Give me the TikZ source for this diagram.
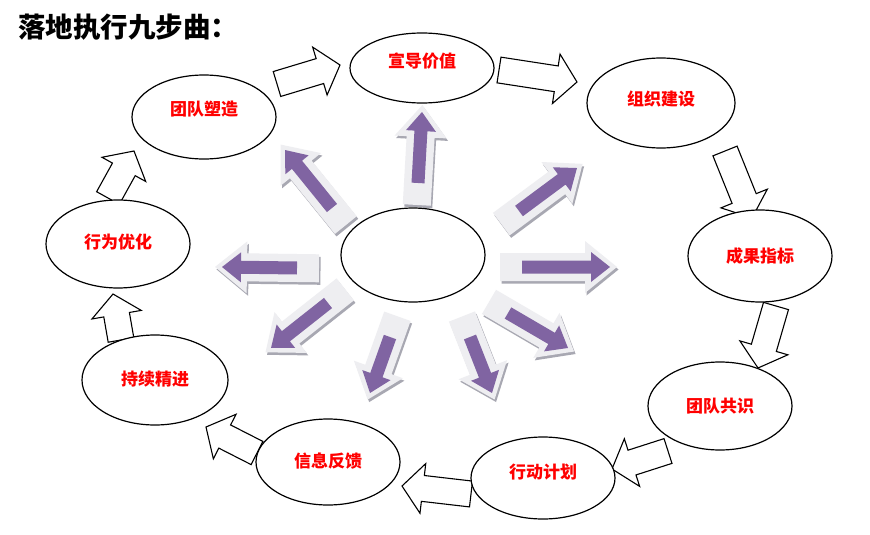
\documentclass[tikz,border=0pt]{standalone}
\usepackage{fontspec}
\setmainfont{Noto Sans CJK SC}
\usetikzlibrary{shapes.geometric}
\definecolor{purp}{RGB}{128,100,162}
\definecolor{lgray}{RGB}{238,238,241}
\definecolor{sgray}{RGB}{168,168,178}
\definecolor{lred}{RGB}{255,0,0}

\tikzset{
  stepell/.style={ellipse, draw=black, line width=1.2pt, fill=white, inner sep=0pt,
    text=lred, font=\fontsize{17}{19}\selectfont\bfseries},
  harrow/.style={draw=black, line width=1.1pt, fill=white, line join=miter},
}

% hollow block arrow: tail (#1,#2) -> tip (#3,#4)
\newcommand\hollowarr[4]{%
  \pgfmathsetmacro\adx{#3-#1}\pgfmathsetmacro\ady{#4-#2}%
  \pgfmathsetmacro\aL{veclen(\adx,\ady)}%
  \pgfmathsetmacro\aA{atan2(-\ady,\adx)}%
  \begin{scope}[shift={(#1,#2)},rotate=\aA]
    \draw[harrow] (0,-13) -- (\aL-21,-13) -- (\aL-21,-25) -- (\aL,0) -- (\aL-21,25) -- (\aL-21,13) -- (0,13) -- cycle;
  \end{scope}}

% purple 3D arrow: tail (#1,#2) -> tip (#3,#4) of the purple part
\newcommand\purparr[4]{%
  \pgfmathsetmacro\adx{#3-#1}\pgfmathsetmacro\ady{#4-#2}%
  \pgfmathsetmacro\aL{veclen(\adx,\ady)}%
  \pgfmathsetmacro\aA{atan2(-\ady,\adx)}%
  \begin{scope}[shift={(#1+1.5,#2+2.5)},rotate=\aA]
    \fill[sgray] (-22,-14) -- (\aL-25,-14) -- (\aL-25,-26) -- (\aL+7,0) -- (\aL-25,26) -- (\aL-25,14) -- (-22,14) -- cycle;
  \end{scope}
  \begin{scope}[shift={(#1,#2)},rotate=\aA]
    \fill[lgray] (-22,-14) -- (\aL-25,-14) -- (\aL-25,-26) -- (\aL+7,0) -- (\aL-25,26) -- (\aL-25,14) -- (-22,14) -- cycle;
    \fill[purp] (0,-6.5) -- (\aL-19,-6.5) -- (\aL-19,-15) -- (\aL,0) -- (\aL-19,15) -- (\aL-19,6.5) -- (0,6.5) -- cycle;
  \end{scope}}

\begin{document}
\begin{tikzpicture}[x=1pt,y=-1pt]
\useasboundingbox (0,0) rectangle (870,535);
\fill[white] (0,0) rectangle (870,535);

% title
\node[anchor=west, inner sep=0pt, font=\fontsize{27.5}{30}\selectfont\bfseries] (title) at (18,27) {落地执行九步曲：};

% purple radiating arrows
\purparr{418}{183}{422}{112}
\purparr{332}{208}{285}{150}
\purparr{297}{268}{222}{267}
\purparr{328}{303}{271}{348}
\purparr{390}{337}{370}{393}
\purparr{470}{337}{492}{393}
\purparr{508}{313}{568}{348}
\purparr{522}{267}{610}{267}
\purparr{519}{211}{577}{168}

% hollow arrows between steps
\hollowarr{277}{84}{340}{65}
\hollowarr{499}{70}{577}{82}
\hollowarr{725}{151}{752}{218}
\hollowarr{776}{306}{758}{368}
\hollowarr{668}{451}{612}{469}
\hollowarr{471}{494}{402}{486}
\hollowarr{257}{453}{206}{427}
\hollowarr{121}{340}{113}{294}
\hollowarr{108}{198}{134}{151}

% ellipses
\node[stepell, minimum width=144pt, minimum height=70pt] (gv) at (422,68) {\raisebox{16pt}{宣导价值}};
\node[stepell, minimum width=148pt, minimum height=90pt] (zz) at (661,103) {\raisebox{10pt}{组织建设}};
\node[stepell, minimum width=144pt, minimum height=92pt] (cg) at (760,256) {成果指标};
\node[stepell, minimum width=144pt, minimum height=88pt] (gs) at (720,406) {团队共识};
\node[stepell, minimum width=144pt, minimum height=82pt] (xd) at (543,478) {\raisebox{14pt}{行动计划}};
\node[stepell, minimum width=144pt, minimum height=86pt] (xx) at (328,462) {\raisebox{4pt}{信息反馈}};
\node[stepell, minimum width=146pt, minimum height=90pt] (cx) at (155,380) {\raisebox{4pt}{持续精进}};
\node[stepell, minimum width=144pt, minimum height=88pt] (xw) at (118,244) {\raisebox{6pt}{行为优化}};
\node[stepell, minimum width=144pt, minimum height=84pt] (td) at (204,117) {\raisebox{18pt}{团队塑造}};
\node[stepell, minimum width=144pt, minimum height=94pt] (core) at (413,255) {};
\end{tikzpicture}
\end{document}
